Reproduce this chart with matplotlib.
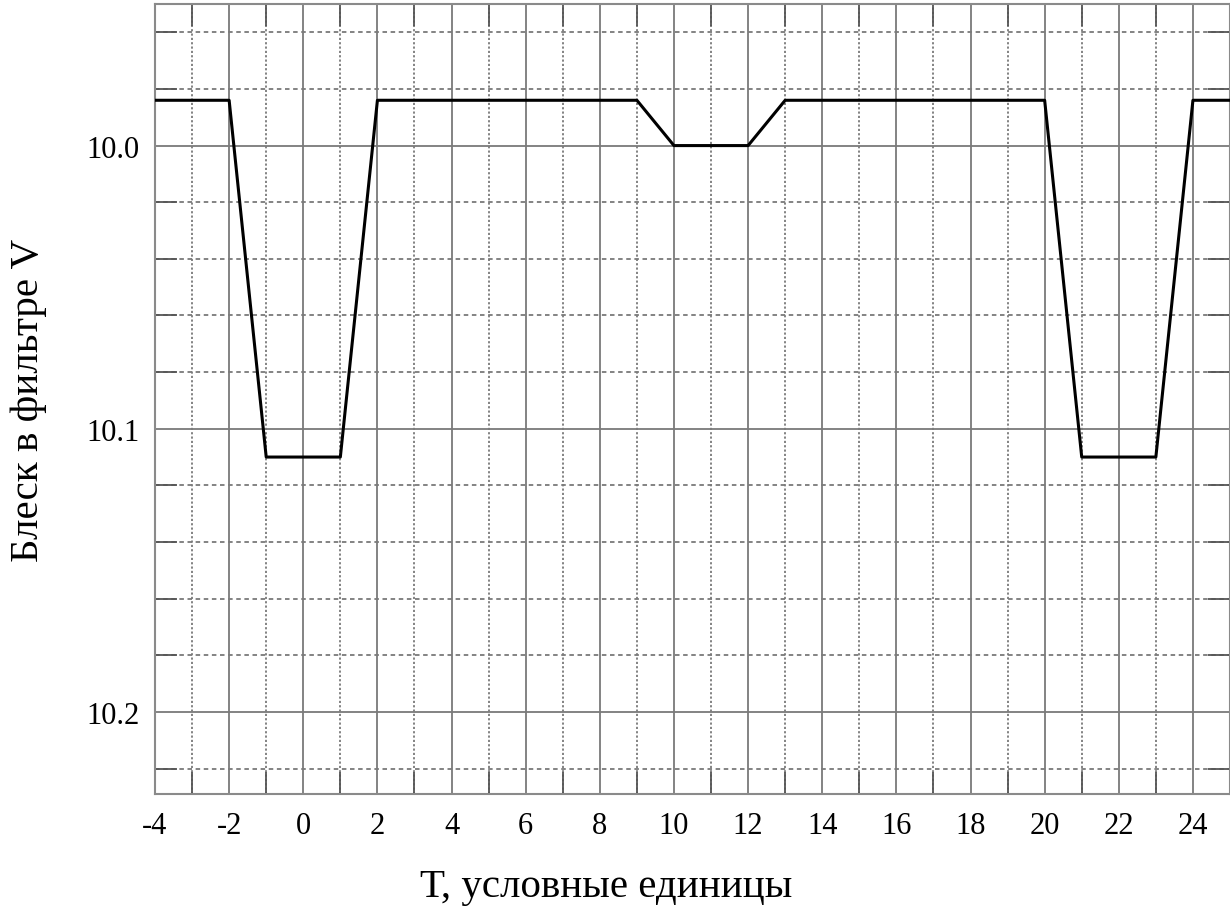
import matplotlib.pyplot as plt
from matplotlib.ticker import MultipleLocator

# time points and V-band magnitude
t = [-4, -2, -1, 1, 2, 9, 10, 12, 13, 20, 21, 23, 24, 25]
mag = [9.984, 9.984, 10.11, 10.11, 9.984, 9.984, 10.0, 10.0,
       9.984, 9.984, 10.11, 10.11, 9.984, 9.984]

plt.rcParams["font.family"] = ["Liberation Serif", "DejaVu Serif"]
plt.rcParams["axes.unicode_minus"] = False

fig = plt.figure(figsize=(12.3, 9.12), dpi=100)
ax = fig.add_axes([155 / 1230, 1 - 795 / 912, 1 - 155 / 1230, 790 / 912])

ax.plot(t, mag, color="black", linewidth=2.2, zorder=3)

ax.set_xlim(-4, 25)
ax.set_ylim(10.229, 9.95)

ax.xaxis.set_major_locator(MultipleLocator(2))
ax.xaxis.set_minor_locator(MultipleLocator(1))
ax.yaxis.set_major_locator(MultipleLocator(0.1))
ax.yaxis.set_minor_locator(MultipleLocator(0.02))
ax.yaxis.set_major_formatter(plt.FormatStrFormatter("%.1f"))

ax.grid(which="major", color="#7a7a7a", linestyle="-", linewidth=1.3)
ax.grid(which="minor", axis="x", color="#7a7a7a", linestyle=(0, (1.2, 1.2)), linewidth=1.3)
ax.grid(which="minor", axis="y", color="#7a7a7a", linestyle=(0, (2.5, 2)), linewidth=1.3)

ax.tick_params(which="both", direction="in", top=True, right=True,
               color="#555555", width=1.3)
ax.tick_params(which="major", length=0, labelsize=22)
ax.tick_params(axis="x", which="major", pad=12)
ax.tick_params(axis="y", which="major", pad=11)
ax.tick_params(which="minor", length=16)

for s in ax.spines.values():
    s.set_color("#8a8a8a")
    s.set_linewidth(1.5)

ax.set_xlabel("Т, условные единицы", fontsize=29.5)
ax.xaxis.set_label_coords(0.42, -0.094)
ax.set_ylabel("Блеск в фильтре V", fontsize=29.5)
ax.yaxis.set_label_coords(-0.1, 0.5)

fig.savefig("out.png", dpi=100)
plt.close(fig)
